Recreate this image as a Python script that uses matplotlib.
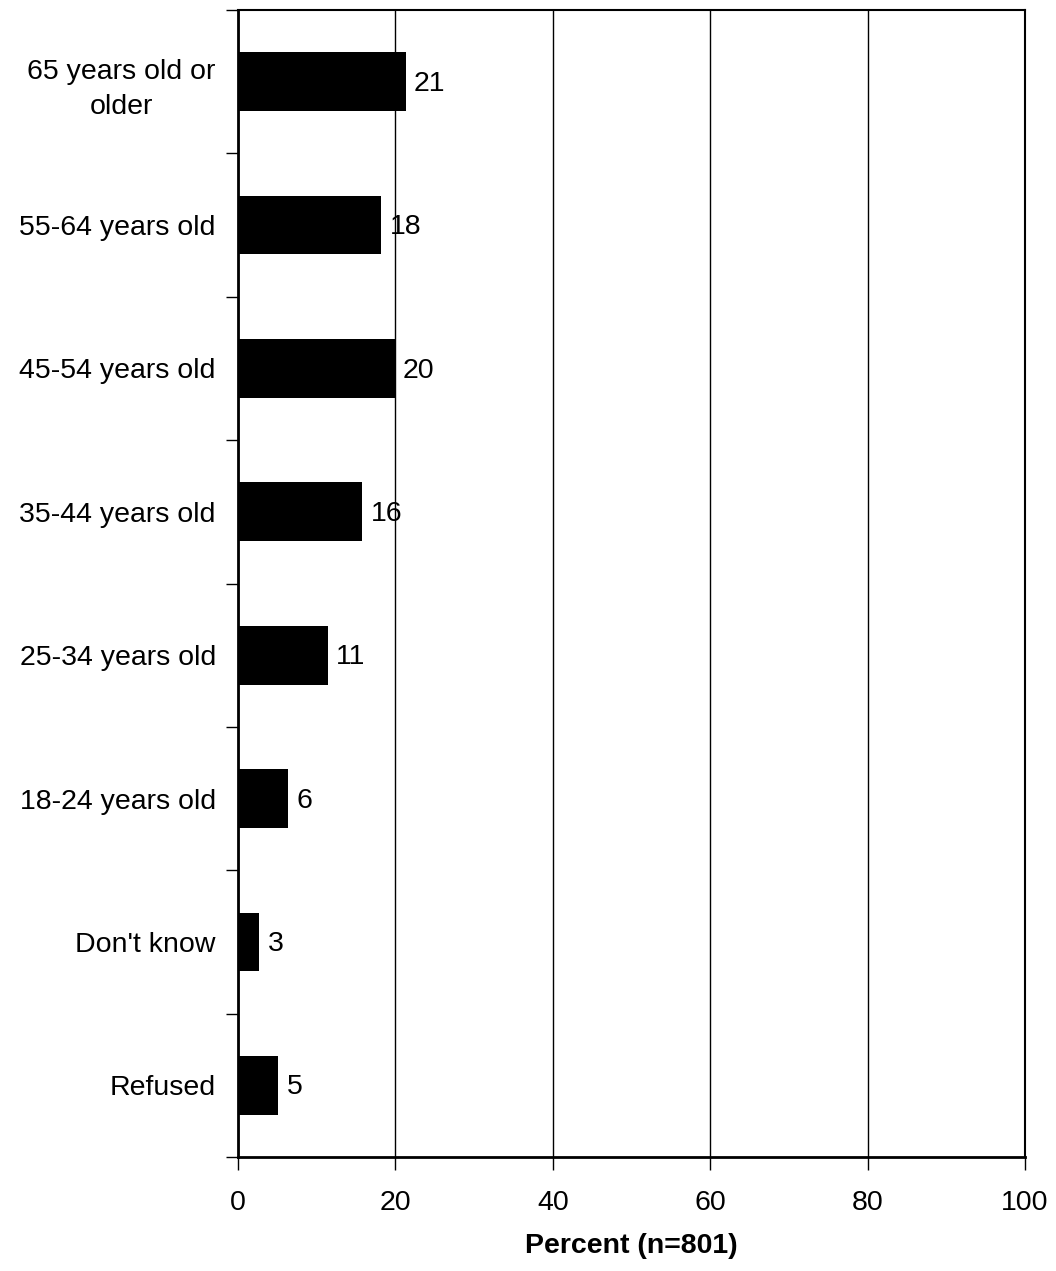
import matplotlib
matplotlib.use("Agg")
import matplotlib.pyplot as plt

plt.rcParams['font.family'] = ['Liberation Sans', 'DejaVu Sans']

categories = ['65 years old or\nolder', '55-64 years old', '45-54 years old',
              '35-44 years old', '25-34 years old', '18-24 years old',
              "Don't know", 'Refused']
percent = [21.3, 18.2, 19.9, 15.8, 11.4, 6.4, 2.7, 5.1]
labels = ['21', '18', '20', '16', '11', '6', '3', '5']
x_ticks = [0, 20, 40, 60, 80, 100]

fig = plt.figure(figsize=(10.56, 12.71), dpi=100)
ax = fig.add_axes([238 / 1056, 1 - 1157 / 1271, 787 / 1056, 1147 / 1271])

n = len(categories)
ypos = list(range(n))
ax.barh(ypos, percent, height=0.41, color='black', zorder=3)

for y, v, lab in zip(ypos, percent, labels):
    ax.annotate(lab, xy=(v, y), xytext=(6, -1.5), textcoords='offset points',
                ha='left', va='center', fontsize=20.5, zorder=4)

ax.set_xlim(0, 100)
ax.set_ylim(n - 0.5, -0.5)
ax.set_xticks(x_ticks)
ax.set_xticklabels([str(t) for t in x_ticks], fontsize=20.5)
ax.tick_params(axis='x', direction='out', length=9, width=1, pad=15)

# category labels sit between the boundary ticks
ax.set_yticks([i - 0.5 for i in range(n + 1)])
ax.set_yticklabels([])
ax.tick_params(axis='y', direction='out', length=9, width=1)
ax.set_yticks(ypos, minor=True)
ax.set_yticklabels(categories, minor=True, fontsize=20.5,
                   multialignment='center', linespacing=1.45)
ax.tick_params(axis='y', which='minor', length=0, pad=16)

ax.xaxis.grid(True, color='black', linewidth=1, zorder=0)
for side in ['left', 'bottom']:
    ax.spines[side].set_linewidth(2)
for side in ['top', 'right']:
    ax.spines[side].set_linewidth(1.5)

ax.set_xlabel('Percent (n=801)', fontsize=20.5, fontweight='bold', labelpad=12)

fig.savefig('out.png', dpi=100)
